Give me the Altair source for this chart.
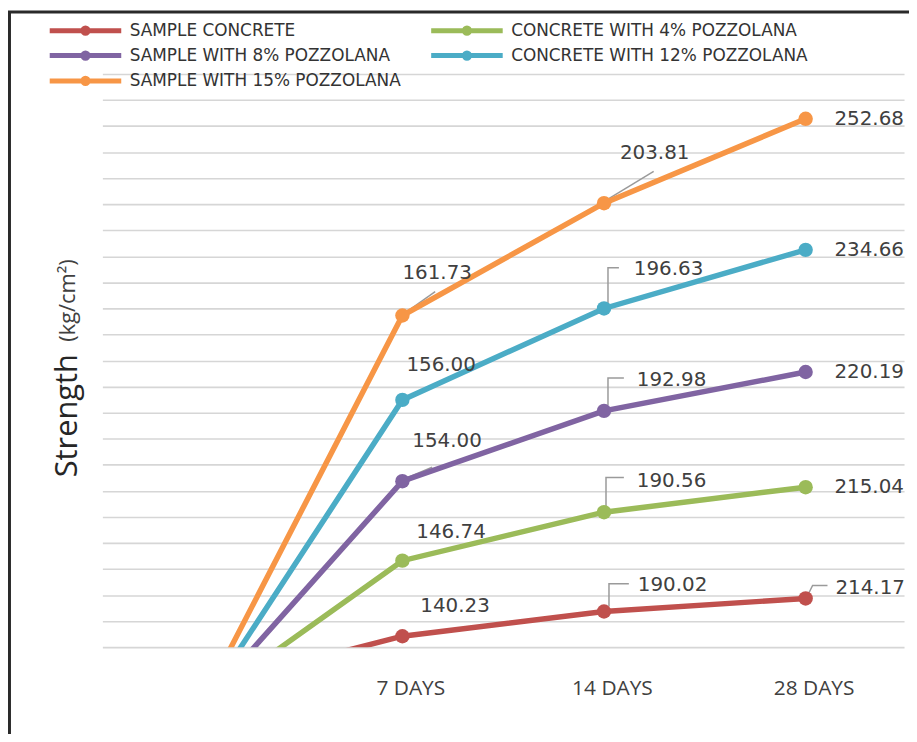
import json
import altair as alt
import pandas as pd

# ---------------- data ----------------
SERIES = ["SAMPLE CONCRETE", "CONCRETE WITH 4% POZZOLANA", "SAMPLE WITH 8% POZZOLANA",
          "CONCRETE WITH 12% POZZOLANA", "SAMPLE WITH 15% POZZOLANA"]
COLORS = ["#C0504D", "#9BBB59", "#8064A2", "#4BACC6", "#F79646"]
DAYS = ["", "7 DAYS", "14 DAYS", "28 DAYS"]

# plotted heights (in gridline steps above the bottom gridline): start, 7, 14, 28 days
POS_SAMPLE = [-1.56, 0.42, 1.37, 1.87]
POS_4 = [-2.20, 3.32, 5.18, 6.14]
POS_8 = [-2.30, 6.37, 9.07, 10.56]
POS_12 = [-2.35, 9.49, 13.00, 15.25]
POS_15 = [-2.25, 12.73, 17.04, 20.28]

# printed strength labels (kg/cm2) at 7, 14, 28 days
LBL_SAMPLE = [140.23, 190.02, 214.17]
LBL_4 = [146.74, 190.56, 215.04]
LBL_8 = [154.00, 192.98, 220.19]
LBL_12 = [156.00, 196.63, 234.66]
LBL_15 = [161.73, 203.81, 252.68]

POS = [POS_SAMPLE, POS_4, POS_8, POS_12, POS_15]
LBL = [LBL_SAMPLE, LBL_4, LBL_8, LBL_12, LBL_15]

# ---------------- styling: label placement (pixels) ----------------
W, H = 807, 577
XDOM = [-0.488, 3.488]
YDOM = [0, 22]
PX_X = W / (XDOM[1] - XDOM[0])
PX_Y = H / (YDOM[1] - YDOM[0])

LABEL_NUDGE = [  # (dx, dy) px for 7, 14, 28 days
    [(53, -30), (69, -27), (65, -10)],
    [(49, -29), (68, -31), (64, 0)],
    [(45, -40), (68, -31), (64, 0)],
    [(39, -35), (65, -40), (64, 0)],
    [(35, -43), (51, -50), (64, 0)],
]
LEADERS = {  # (series index, day index) -> polyline offsets in px from the point
    (4, 1): [(6, -5), (33, -24)],
    (2, 1): [(6, -4), (30, -14)],
    (4, 2): [(4, -4), (50, -32)],
    (3, 2): [(4, -3), (4, -41), (15, -41)],
    (2, 2): [(4, -6), (4, -33), (20, -33)],
    (1, 2): [(2, -6), (2, -35), (20, -35)],
    (0, 2): [(5, -5), (5, -28), (25, -28)],
    (0, 3): [(2, -3), (7, -13), (22, -13)],
}

pts, lbls, lead = [], [], []
for s, name in enumerate(SERIES):
    for i, v in enumerate(POS[s]):
        pts.append({"series": name, "idx": i, "pos": v})
    for d in range(3):
        i = d + 1
        dx, dy = LABEL_NUDGE[s][d]
        lbls.append({"series": name, "text": f"{LBL[s][d]:.2f}",
                     "idx": i + dx / PX_X, "pos": POS[s][i] - dy / PX_Y})
for (s, i), path in LEADERS.items():
    for k, (dx, dy) in enumerate(path):
        lead.append({"key": f"{s}-{i}", "k": k,
                     "idx": i + dx / PX_X, "pos": POS[s][i] - dy / PX_Y})

df_pts = pd.DataFrame(pts)
df_lbl = pd.DataFrame(lbls)
df_lead = pd.DataFrame(lead)

xscale = alt.Scale(domain=XDOM, nice=False, zero=False)
yscale = alt.Scale(domain=YDOM, nice=False, zero=False)
cscale = alt.Scale(domain=SERIES, range=COLORS)

label_expr = json.dumps(DAYS) + "[datum.value]"
xaxis = alt.Axis(values=[1, 2, 3], labelExpr=label_expr, grid=False, domain=False,
                 ticks=False, labelFont="Open Sans", labelFontSize=21,
                 labelColor="#404040", labelPadding=31, labelOffset=8, title=None)
yaxis = alt.Axis(values=list(range(23)), labels=False, ticks=False, domain=False,
                 grid=True, gridColor="#d6d6d6", gridWidth=1.6, title=None)
X = alt.X("idx:Q", scale=xscale, axis=xaxis, title=None)
Y = alt.Y("pos:Q", scale=yscale, axis=yaxis, title=None)

legend_path = "M-6,0H6M-0.45,0A0.45,0.45,0,1,1,0.45,0A0.45,0.45,0,1,1,-0.45,0"

lines = alt.Chart(df_pts).mark_line(strokeWidth=5.5, clip=True).encode(
    x=X, y=Y,
    color=alt.Color("series:N", scale=cscale,
                    legend=alt.Legend(orient="none", legendX=-25.5, legendY=-52.5, columns=2,
                                      direction="horizontal",
                                      columnPadding=20, rowPadding=-1.5, title=None,
                                      symbolType=legend_path, symbolSize=144,
                                      symbolStrokeWidth=5, labelOffset=36,
                                      labelFont="DejaVu Sans", labelFontSize=17,
                                      labelColor="#333333", labelLimit=500, padding=0)),
    detail="series:N",
    order="idx:Q",
)

points = alt.Chart(df_pts).transform_filter("datum.idx > 0").mark_circle(size=210, opacity=1).encode(
    x=X, y=Y,
    color=alt.Color("series:N", scale=cscale, legend=None),
)

leaders = alt.Chart(df_lead).mark_line(color="#9a9a9a", strokeWidth=1.5).encode(
    x=X, y=Y,
    detail="key:N",
    order="k:Q",
)

labels = alt.Chart(df_lbl).mark_text(font="DejaVu Sans", fontSize=20, color="#404040",
                                     align="center", baseline="middle").encode(
    x=X, y=Y,
    text="text:N",
)

one = pd.DataFrame({"t": ["Strength"], "u": ["(kg/cm\u00b2)"]})
ytitle = alt.Chart(one).mark_text(font="Open Sans", fontSize=31, color="#262626", angle=270,
                                  align="center", baseline="alphabetic").encode(
    x=alt.value(-26), y=alt.value(344), text="t:N")
yunit = alt.Chart(one).mark_text(font="Open Sans", fontSize=22, color="#404040", angle=270,
                                 align="center", baseline="alphabetic").encode(
    x=alt.value(-28), y=alt.value(228), text="u:N")

border_l = alt.Chart(one).mark_rule(color="#2a2a2a", strokeWidth=3).encode(
    x=alt.value(-93.5), y=alt.value(-62.5), y2=alt.value(680))
border_t = alt.Chart(one).mark_rule(color="#2a2a2a", strokeWidth=3).encode(
    x=alt.value(-95), x2=alt.value(820), y=alt.value(-62.5))

chart = alt.layer(border_l, border_t, ytitle, yunit, leaders, lines, points, labels).properties(
    width=W, height=H,
    padding={"left": 95, "top": 64, "right": 5, "bottom": 85},
    autosize=alt.AutoSizeParams(type="none"),
).configure_view(stroke=None)

chart.save("out.html", embed_options={"renderer": "svg", "actions": False})
